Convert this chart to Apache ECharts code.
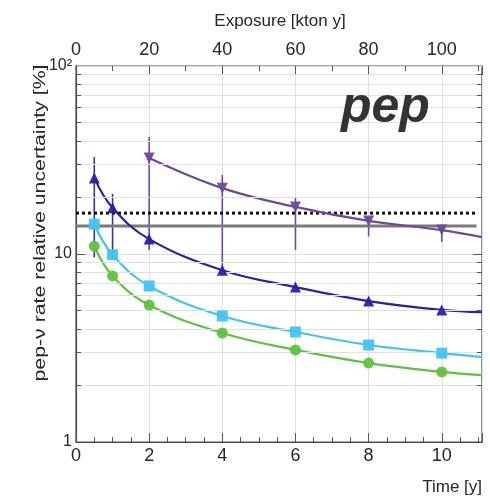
<!DOCTYPE html>
<html><head><meta charset="utf-8">
<script src="https://cdn.jsdelivr.net/npm/echarts@6/dist/echarts.min.js"></script>
<style>html,body{margin:0;padding:0;background:#fff}#c{width:490px;height:503px}</style>
</head><body><div id="c"></div>
<script>
// ---- data ----
const timeMax = 11.1;
const exposureMax = 111;
const yTickLabels = {1: '1', 10: '10', 100: '10\u00B2'};

const purpleX = [2, 4, 6, 8, 10];
const purpleY = [32.4, 22.4, 17.8, 15.0, 13.4];
const purpleLo = [10.5, 8.2, 10.5, 12.4, 11.6];
const purpleHi = [41.9, 26.3, 19.9, 15.7, 14.3];
const purpleEnd = [11.1, 12.3];

const blueX = [0.5, 1, 2, 4, 6, 8, 10];
const blueY = [25.4, 17.6, 12.0, 8.2, 6.67, 5.62, 5.04];
const blueErrX = [0.5, 1];
const blueLo = [9.6, 9.3];
const blueHi = [32.8, 20.9];
const blueEnd = [11.1, 4.9];

const cyanX = [0.5, 1, 2, 4, 6, 8, 10];
const cyanY = [14.4, 9.9, 6.76, 4.68, 3.85, 3.28, 2.97];
const cyanEnd = [11.1, 2.83];

const greenX = [0.5, 1, 2, 4, 6, 8, 10];
const greenY = [11.0, 7.64, 5.35, 3.8, 3.09, 2.63, 2.36];
const greenEnd = [11.1, 2.27];

const dottedLevel = 16.5;
const solidLevel = 14.1;
const levelSpan = [0, 10.95];

const minorGrid = [2, 3, 4, 5, 6, 7, 8, 9, 20, 30, 40, 50, 60, 70, 80, 90];
const majorGrid = [10];

// ---- build ----
const FONT = 'Liberation Sans, Arial, sans-serif';
const TXT = '#262626';
const C_PURPLE = '#6c4a99';
const C_BLUE = '#2a20a6';
const C_CYAN = '#45c3ee';
const C_GREEN = '#62c040';

function pts(xs, ys) { return xs.map((x, i) => [x, ys[i]]); }
function curve(xs, ys, end) { return pts(xs, ys).concat([end]); }
function errs(xs, lo, hi) { return xs.map((x, i) => [x, lo[i], hi[i]]); }

function errSeries(data, color) {
  return {
    type: 'custom', xAxisIndex: 0, yAxisIndex: 0, silent: true, z: 3,
    data: data, encode: {x: 0, y: [1, 2]},
    renderItem: function (params, api) {
      const x = api.value(0), lo = api.value(1), hi = api.value(2);
      const a = api.coord([x, lo]), b = api.coord([x, hi]);
      return {type: 'line', shape: {x1: a[0], y1: a[1], x2: b[0], y2: b[1]},
        style: {stroke: color, lineWidth: 1.6}};
    }
  };
}
function lineSeries(data, color) {
  return {type: 'line', data: data, smooth: 0.4, showSymbol: false,
    lineStyle: {color: color, width: 2.2}, itemStyle: {color: color}, silent: true, z: 4};
}
function markerSeries(data, color, symbol, rotate, size) {
  return {type: 'scatter', data: data, symbol: symbol, symbolRotate: rotate || 0,
    symbolSize: size, itemStyle: {color: color, opacity: 0.95}, silent: true, z: 5};
}

const gridMarks = [];
minorGrid.forEach(v => gridMarks.push({yAxis: v}));
const tickMarks = [];
minorGrid.forEach(v => {
  tickMarks.push([{coord: [0, v]}, {coord: [0.14, v]}]);
  tickMarks.push([{coord: [timeMax - 0.14, v]}, {coord: [timeMax, v]}]);
});
majorGrid.forEach(v => {
  tickMarks.push([{coord: [0, v]}, {coord: [0.25, v]}]);
  tickMarks.push([{coord: [timeMax - 0.25, v]}, {coord: [timeMax, v]}]);
});

const option = {
  backgroundColor: '#fff',
  animation: false,
  textStyle: {fontFamily: FONT},
  grid: {left: 76, right: 8, top: 66, bottom: 61, show: true, borderColor: '#4a4a4a', borderWidth: 1.2, containLabel: false},
  xAxis: [
    {type: 'value', position: 'bottom', min: 0, max: timeMax, interval: 2,
      axisLine: {show: true, onZero: false, lineStyle: {color: '#4a4a4a', width: 1.2}},
      axisTick: {inside: true, length: 9, lineStyle: {color: '#555'}},
      splitLine: {show: true, lineStyle: {color: '#e0e0e0', width: 1}},
      axisLabel: {margin: 5, fontSize: 18, color: TXT, fontFamily: FONT,
        formatter: v => (Math.abs(v % 2) < 1e-9 && v <= 10 ? String(v) : '')}},
    {type: 'value', position: 'bottom', min: 0, max: timeMax, interval: 0.5,
      axisLine: {show: false}, axisLabel: {show: false}, splitLine: {show: false},
      axisTick: {inside: true, length: 5, lineStyle: {color: '#555'}}},
    {type: 'value', position: 'top', min: 0, max: exposureMax, interval: 20,
      axisLine: {show: false},
      axisTick: {inside: true, length: 9, lineStyle: {color: '#555'}},
      splitLine: {show: false},
      axisLabel: {margin: 7, fontSize: 18, color: TXT, fontFamily: FONT,
        formatter: v => (Math.abs(v % 20) < 1e-9 && v <= 100 ? String(v) : '')}},
    {type: 'value', position: 'top', min: 0, max: exposureMax, interval: 10,
      axisLine: {show: false}, axisLabel: {show: false}, splitLine: {show: false},
      axisTick: {inside: true, length: 5, lineStyle: {color: '#555'}}}
  ],
  yAxis: [{type: 'log', logBase: 10, min: 1, max: 100,
    axisLine: {show: true, lineStyle: {color: '#4a4a4a', width: 1.2}},
    axisTick: {show: false},
    splitLine: {show: true, lineStyle: {color: '#e0e0e0', width: 1}},
    axisLabel: {margin: 4, fontSize: 16, color: TXT, fontFamily: FONT,
      formatter: v => yTickLabels[Math.round(v)] || ''}}],
  graphic: [
    {type: 'text', x: 41, y: 223, rotation: Math.PI / 2, scaleX: 1.33,
      style: {text: 'pep-\u03BD rate relative uncertainty [%]', font: '16px ' + FONT, fill: TXT,
        textAlign: 'center', textVerticalAlign: 'middle'}},
    {type: 'text', x: 280, y: 21,
      style: {text: 'Exposure [kton y]', font: '17px ' + FONT, fill: TXT, textAlign: 'center', textVerticalAlign: 'middle'}},
    {type: 'text', x: 482, y: 487,
      style: {text: 'Time [y]', font: '17px ' + FONT, fill: TXT, textAlign: 'right', textVerticalAlign: 'middle'}},
    {type: 'text', x: 341, y: 108, z: 10,
      style: {text: 'pep', font: 'italic bold 50px ' + FONT, fill: '#333', textAlign: 'left', textVerticalAlign: 'middle'}}
  ],
  series: [
    {type: 'line', data: [], silent: true, z: 1,
      markLine: {silent: true, symbol: 'none', animation: false, label: {show: false},
        lineStyle: {color: '#e0e0e0', width: 1, type: 'solid'}, data: gridMarks}},
    {type: 'line', data: [], silent: true, z: 2,
      markLine: {silent: true, symbol: 'none', animation: false, label: {show: false},
        lineStyle: {color: '#555', width: 1, type: 'solid'}, data: tickMarks}},
    {type: 'line', data: [[levelSpan[0], solidLevel], [levelSpan[1], solidLevel]], showSymbol: false, silent: true, z: 3,
      lineStyle: {color: '#7a7a7a', width: 3}},
    {type: 'line', data: [[levelSpan[0], dottedLevel], [levelSpan[1], dottedLevel]], showSymbol: false, silent: true, z: 3,
      lineStyle: {color: '#111', width: 3, type: [3, 3]}},
    errSeries(errs(purpleX, purpleLo, purpleHi), C_PURPLE),
    errSeries(errs(blueErrX, blueLo, blueHi), '#3b3690'),
    lineSeries(curve(greenX, greenY, greenEnd), C_GREEN),
    lineSeries(curve(cyanX, cyanY, cyanEnd), C_CYAN),
    lineSeries(curve(blueX, blueY, blueEnd), C_BLUE),
    lineSeries(curve(purpleX, purpleY, purpleEnd), C_PURPLE),
    markerSeries(pts(greenX, greenY), C_GREEN, 'circle', 0, 11),
    markerSeries(pts(cyanX, cyanY), C_CYAN, 'rect', 0, 11),
    markerSeries(pts(blueX, blueY), C_BLUE, 'triangle', 0, 11),
    markerSeries(pts(purpleX, purpleY), C_PURPLE, 'triangle', 180, 11)
  ]
};
const chart = echarts.init(document.getElementById('c'), null, {renderer: 'canvas'});
chart.setOption(option);
</script>
</body></html>
